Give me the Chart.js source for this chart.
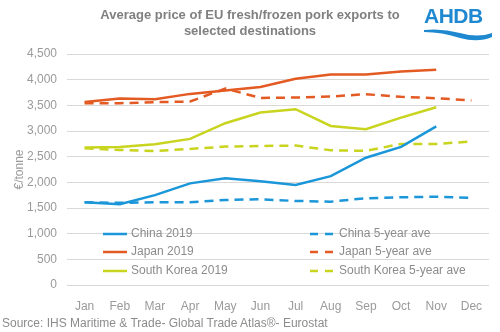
<!DOCTYPE html>
<html>
<head>
<meta charset="utf-8">
<script src="https://cdn.jsdelivr.net/npm/chart.js@4"></script>
<style>
    body { margin: 0; background: #fff; font-family: "Liberation Sans", Arial, sans-serif; }
    #wrap { position: relative; width: 500px; height: 332px; }
    #title { position: absolute; left: 0; width: 500px; top: 7px; text-align: center; font-weight: bold; font-size: 13px; line-height: 16px; color: #808080; }
    #logo { position: absolute; left: 424px; top: 4px; width: 72px; height: 40px; }
    #logo span { position: absolute; left: 0; top: 0; font-weight: bold; font-size: 21px; color: #1e88d0; letter-spacing: -0.5px; }
    #logo svg { position: absolute; left: 0; top: 23px; }
    #source { position: absolute; left: 2px; top: 316px; font-size: 12px; color: #8c8c8c; }
</style>
</head>
<body>
<div id="wrap">
    <canvas id="line-chart" width="500" height="332"></canvas>
    <div id="title">Average price of EU fresh/frozen pork exports to<br>selected destinations</div>
    <div id="logo"><span>AHDB</span>
        <svg width="72" height="16" viewBox="0 0 72 16"><path d="M0 3 Q18 1 36 6 Q54 11 68 6 L68 10 Q54 16 36 11 Q18 5 0 5 Z" fill="#1e88d0"/></svg>
    </div>
    <div id="source">Source: IHS Maritime &amp; Trade- Global Trade Atlas®- Eurostat</div>
</div>
<script>
const months = ['Jan', 'Feb', 'Mar', 'Apr', 'May', 'Jun', 'Jul', 'Aug', 'Sep', 'Oct', 'Nov', 'Dec']
const china2019 = [1610, 1575, 1750, 1980, 2080, 2020, 1950, 2120, 2480, 2690, 3090, null]
const chinaAve = [1610, 1600, 1612, 1612, 1657, 1670, 1637, 1624, 1690, 1709, 1721, 1696]
const japan2019 = [3567, 3632, 3619, 3723, 3788, 3856, 4016, 4100, 4100, 4159, 4191, null]
const japanAve = [3541, 3541, 3561, 3574, 3827, 3645, 3651, 3671, 3717, 3665, 3639, 3593]
const korea2019 = [2677, 2690, 2742, 2846, 3152, 3359, 3424, 3099, 3035, 3261, 3463, null]
const koreaAve = [2664, 2631, 2612, 2651, 2696, 2709, 2716, 2625, 2612, 2749, 2749, 2794]

const blue = '#1a96d9'
const orange = '#e35a22'
const green = '#c8d41e'
const tickGrey = '#9a9a9a'
const grey = '#8c8c8c'

function line(label, data, color, dashed) {
    return {
        label: label,
        data: data,
        borderColor: color,
        backgroundColor: color,
        borderWidth: 2.5,
        borderDash: dashed ? [9, 6] : [],
        pointRadius: 0,
        tension: 0,
        fill: false
    }
}

// legend drawn inside the plot, two columns
const insideLegend = {
    id: 'insideLegend',
    afterDraw(chart) {
        const ctx = chart.ctx
        const rows = [234, 252, 271]
        ctx.save()
        ctx.font = '12px "Liberation Sans", Arial, sans-serif'
        ctx.textBaseline = 'middle'
        chart.data.datasets.forEach((ds, i) => {
            const col = i % 2
            const y = rows[Math.floor(i / 2)]
            const x0 = col === 0 ? 103 : 310
            ctx.strokeStyle = ds.borderColor
            ctx.lineWidth = 2.5
            ctx.setLineDash(col === 0 ? [] : [8, 7])
            ctx.beginPath()
            ctx.moveTo(x0, y)
            ctx.lineTo(x0 + 24, y)
            ctx.stroke()
            ctx.setLineDash([])
            ctx.fillStyle = grey
            ctx.fillText(ds.label, x0 + (col === 0 ? 28 : 29), y)
        })
        ctx.restore()
    }
}

new Chart(document.getElementById('line-chart'), {
    type: 'line',
    data: {
        labels: months,
        datasets: [
            line('China 2019', china2019, blue, false),
            line('China 5-year ave', chinaAve, blue, true),
            line('Japan 2019', japan2019, orange, false),
            line('Japan 5-year ave', japanAve, orange, true),
            line('South Korea 2019', korea2019, green, false),
            line('South Korea 5-year ave', koreaAve, green, true)
        ]
    },
    options: {
        responsive: false,
        animation: false,
        layout: { padding: { left: 0, right: 11, top: 54, bottom: 0 } },
        plugins: { legend: { display: false }, tooltip: { enabled: false } },
        scales: {
            x: {
                offset: true,
                grid: { display: false },
                border: { display: false },
                ticks: { color: tickGrey, font: { size: 12, family: '"Liberation Sans", Arial' }, padding: 6, maxRotation: 0 },
                afterFit: s => { s.height = 47 }
            },
            y: {
                min: 0,
                max: 4500,
                border: { display: false },
                grid: { color: '#d9d9d9', lineWidth: 1, drawTicks: false },
                ticks: {
                    stepSize: 500,
                    color: tickGrey,
                    padding: 10,
                    font: { size: 12, family: '"Liberation Sans", Arial' },
                    callback: v => v.toLocaleString('en-US')
                },
                title: { display: true, text: '€/tonne', color: tickGrey, font: { size: 12, family: '"Liberation Sans", Arial' }, padding: { top: 12, bottom: 0 } },
                afterFit: s => { s.width = 67 }
            }
        }
    },
    plugins: [insideLegend]
})
</script>
</body>
</html>
